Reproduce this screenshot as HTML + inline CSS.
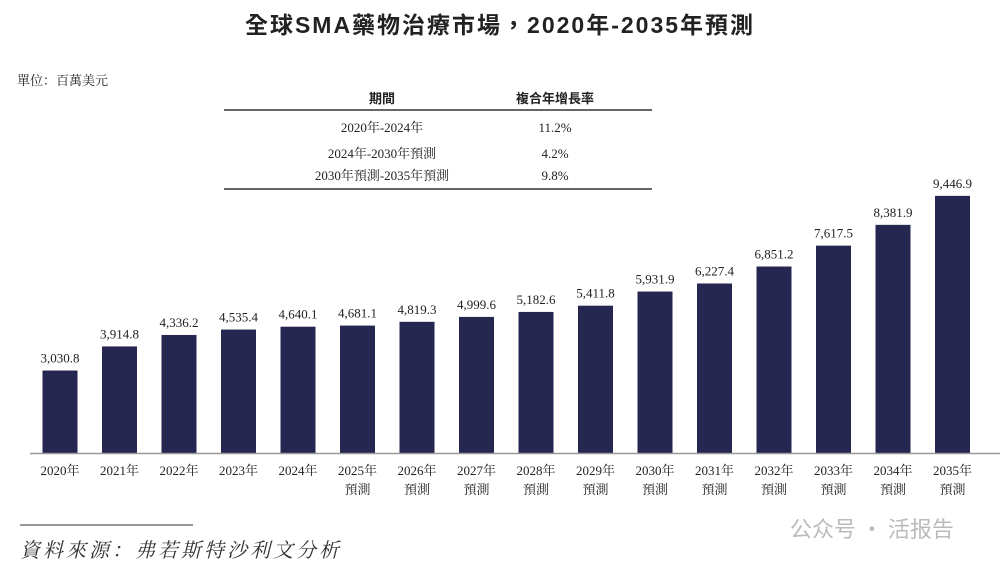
<!DOCTYPE html>
<html><head><meta charset="utf-8"><style>
body{margin:0;background:#fff;}
#c{position:relative;width:1000px;height:569px;overflow:hidden;font-family:"Liberation Serif","Noto Serif CJK SC",serif;color:#222;}
.t{position:absolute;white-space:nowrap;}
</style></head><body>
<div id="c">
<div class="t" style="left:0;width:1000px;text-align:center;top:6px;font-size:23px;font-weight:bold;font-family:'Liberation Sans','Noto Sans CJK TC',sans-serif;letter-spacing:2px;">全球SMA藥物治療市場，2020年-2035年預測</div>
<div class="t" style="left:17px;top:70px;font-size:13px;">單位：百萬美元</div>
<svg width="1000" height="569" style="position:absolute;left:0;top:0">
<g font-size="13" text-anchor="middle" fill="#222">
<text x="382" y="103" font-family="'Noto Sans CJK TC',sans-serif" font-weight="bold">期間</text>
<text x="555" y="103" font-family="'Noto Sans CJK TC',sans-serif" font-weight="bold">複合年增長率</text>
<line x1="224" x2="652" y1="110" y2="110" stroke="#333" stroke-width="1.5"/>
<text x="382" y="132">2020年-2024年</text><text x="555" y="132">11.2%</text>
<text x="382" y="158">2024年-2030年預測</text><text x="555" y="158">4.2%</text>
<text x="382" y="180">2030年預測-2035年預測</text><text x="555" y="180">9.8%</text>
<line x1="224" x2="652" y1="189" y2="189" stroke="#333" stroke-width="1.5"/>
</g>
<g id="bars"></g>
<line x1="30" x2="1000" y1="453.5" y2="453.5" stroke="#999" stroke-width="1.5"/>
<line x1="20" x2="193" y1="525" y2="525" stroke="#333" stroke-width="1"/>
<text x="20" y="557" font-size="20" font-style="italic" fill="#333" letter-spacing="3">資料來源：弗若斯特沙利文分析</text>
<text x="790" y="537" font-size="22" fill="#bbb" font-family="'Noto Sans CJK SC',sans-serif">公众号 · 活报告</text>
</svg>
</div>
<script>
const years=["2020年","2021年","2022年","2023年","2024年","2025年","2026年","2027年","2028年","2029年","2030年","2031年","2032年","2033年","2034年","2035年"];
const forecast=[false,false,false,false,false,true,true,true,true,true,true,true,true,true,true,true];
const values=[3030.8,3914.8,4336.2,4535.4,4640.1,4681.1,4819.3,4999.6,5182.6,5411.8,5931.9,6227.4,6851.2,7617.5,8381.9,9446.9];
const valueLabels=["3,030.8","3,914.8","4,336.2","4,535.4","4,640.1","4,681.1","4,819.3","4,999.6","5,182.6","5,411.8","5,931.9","6,227.4","6,851.2","7,617.5","8,381.9","9,446.9"];
const NS="http://www.w3.org/2000/svg";
const base=453, x0=60, step=59.5, bw=35;
const y=v=>base-v*0.02722;
const xc=i=>x0+i*step;
const g=document.getElementById('bars');
values.forEach((v,i)=>{
 const r=document.createElementNS(NS,'rect');
 r.setAttribute('x',xc(i)-bw/2);r.setAttribute('y',y(v));r.setAttribute('width',bw);r.setAttribute('height',base-y(v));r.setAttribute('fill','#262750');
 
 
 g.appendChild(r);
 const t=document.createElementNS(NS,'text');
 t.setAttribute('x',xc(i));t.setAttribute('y',y(v)-8);t.setAttribute('text-anchor','middle');t.setAttribute('font-size','13');t.setAttribute('fill','#222');
 t.textContent=valueLabels[i];
 
 
 g.appendChild(t);
 const l=document.createElementNS(NS,'text');
 l.setAttribute('x',xc(i));l.setAttribute('y',475);l.setAttribute('text-anchor','middle');l.setAttribute('font-size','13');l.setAttribute('fill','#222');
 l.textContent=years[i];
 
 
 g.appendChild(l);
 if(forecast[i]){
  const f=document.createElementNS(NS,'text');
  f.setAttribute('x',xc(i));f.setAttribute('y',494);f.setAttribute('text-anchor','middle');f.setAttribute('font-size','13');f.setAttribute('fill','#222');
  f.textContent='預測';
  
  
  g.appendChild(f);
 }
});
</script>
</body></html>
